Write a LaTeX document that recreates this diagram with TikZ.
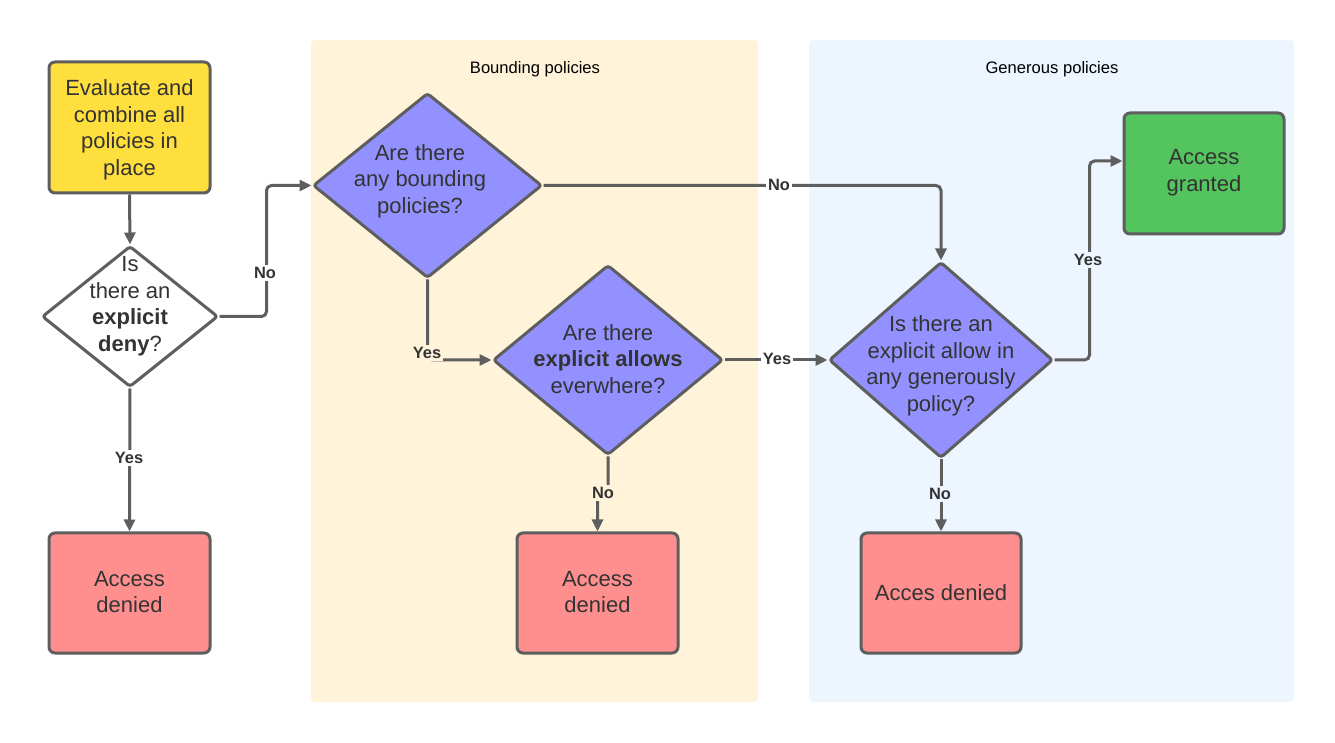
\documentclass[tikz,border=0pt]{standalone}
\usepackage{fontspec}
\setmainfont{Liberation Sans}
\usetikzlibrary{shapes.geometric,arrows.meta,calc}
\definecolor{linec}{HTML}{5E5E5E}
\definecolor{textc}{HTML}{333333}
\definecolor{yel}{HTML}{FFDF3E}
\definecolor{redb}{HTML}{FF8F8F}
\definecolor{grn}{HTML}{54C45E}
\definecolor{pur}{HTML}{9391FF}
\definecolor{bandy}{HTML}{FFF3D9}
\definecolor{bandb}{HTML}{EDF5FF}
\begin{document}
\begin{tikzpicture}[x=0.5pt,y=-0.5pt,
  box/.style={draw=linec, line width=1.5pt, rounded corners=3pt, inner sep=0pt},
  dia/.style={diamond, draw=linec, fill=pur, line width=1.5pt, rounded corners=1.5pt, inner sep=0pt, aspect=1},
  conn/.style={draw=linec, line width=1.5pt, -{Triangle[length=6pt,width=5.5pt]}, rounded corners=2.5pt},
  lbl/.style={font=\bfseries\fontsize{8.2}{9.8}\selectfont, text=textc, inner sep=1pt},
  txt/.style={font=\fontsize{11}{13.25}\selectfont, text=textc, align=center, inner sep=0pt},
  ttl/.style={font=\fontsize{8.3}{10}\selectfont, text=black, inner sep=0pt}]
\useasboundingbox (0,0) rectangle (1335,743);
% bands
\fill[bandy, rounded corners=2pt] (311,40) rectangle (758,702);
\fill[bandb, rounded corners=2pt] (809,40) rectangle (1294,702);
\node[ttl] (t1) at (535,69) {Bounding policies};
\node[ttl] (t2) at (1052,69) {Generous policies};
% boxes
\node[box, fill=yel, minimum width=80.5pt, minimum height=65.5pt] (ev) at (129.5,127.5) {};
\node[txt] (evt) at (129.5,130) {Evaluate and\\combine all\\policies in\\place};
\node[box, fill=redb, minimum width=80.5pt, minimum height=60pt] (r1) at (129.5,593) {};
\node[txt] (r1t) at (129.5,592) {Access\\denied};
\node[box, fill=redb, minimum width=80.5pt, minimum height=60pt] (r2) at (597.5,593) {};
\node[txt] (r2t) at (597.5,592) {Access\\denied};
\node[box, fill=redb, minimum width=80pt, minimum height=60pt] (r3) at (941,593) {};
\node[txt] (r3t) at (941,593) {Acces denied};
\node[box, fill=grn, minimum width=80pt, minimum height=60.5pt] (gr) at (1204,173.5) {};
\node[txt] (grt) at (1204,172.5) {Access\\granted};
% diamonds
\node[dia, fill=white, minimum width=88pt, minimum height=70.5pt] (d1) at (130,316.5) {};
\node[txt] (d1t) at (130,306) {Is\\there an\\\textbf{explicit}\\\textbf{deny}?};
\node[dia, minimum width=114.5pt, minimum height=92.5pt] (d2) at (427.5,185.5) {};
\node[txt] (d2t) at (420,181) {Are there\\any bounding\\policies?};
\node[dia, minimum width=115pt, minimum height=95pt] (d3) at (608,360) {};
\node[txt] (d3t) at (608,359) {Are there\\\textbf{explicit allows}\\everwhere?};
\node[dia, minimum width=112pt, minimum height=98pt] (d4) at (941,360) {};
\node[txt] (d4t) at (941,366) {Is there an\\explicit allow in\\any generously\\policy?};
% connectors
\draw[conn] (ev.south) -- (d1.north);
\draw[conn] (d1.east) -- ++(47,0) |- (d2.west);
\draw[conn] (d1.south) -- (r1.north);
\draw[conn] (d2.south) |- (d3.west);
\draw[conn] (d2.east) -| (d4.north);
\draw[conn] (d3.east) -- (d4.west);
\draw[conn] (d3.south) -- ++(0,37) -| (r2.north);
\draw[conn] (d4.east) -- ++(35,0) |- ($(gr.west)+(0,-12.5)$);
\draw[conn] (d4.south) -- (r3.north);
% labels
\node[lbl, fill=white] (lno1) at (265,273) {No};
\node[lbl, fill=white] (lyes1) at (129,458) {Yes};
\node[lbl, fill=bandy] (lyes2) at (427,353) {Yes};
\node[lbl, fill=white] (lno2) at (779,185) {No};
\node[lbl, fill=white] (lyes3) at (777,359) {Yes};
\node[lbl, fill=bandy] (lno3) at (603,493) {No};
\node[lbl, fill=bandb] (lyes4) at (1088,260) {Yes};
\node[lbl, fill=bandb] (lno4) at (940,494) {No};
\end{tikzpicture}
\end{document}
